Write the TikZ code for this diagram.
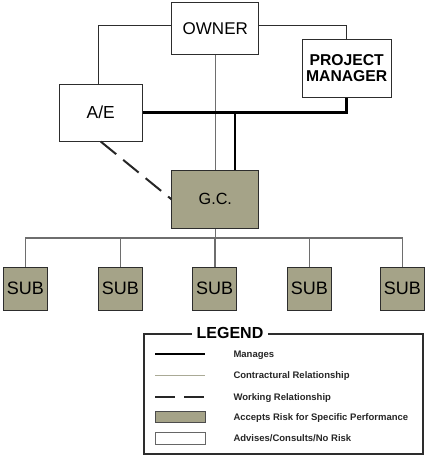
\documentclass[tikz,border=0pt]{standalone}
\usepackage{fontspec}
\setmainfont{Liberation Sans}
\usetikzlibrary{calc}
\definecolor{riskfill}{RGB}{165,163,136}
\definecolor{boxline}{RGB}{45,45,45}
\definecolor{contract}{RGB}{110,110,110}
\definecolor{contractlight}{RGB}{170,170,150}
\tikzset{
  party/.style={draw=boxline, line width=1pt, fill=white, inner sep=0pt, align=center},
  riskbox/.style={party, fill=riskfill},
  manages/.style={line width=2.6pt, black},
  contractual/.style={line width=1pt, boxline},
  contractgray/.style={line width=1.6pt, contract},
  working/.style={line width=2pt, black!85, dash pattern=on 20pt off 9pt},
  legtext/.style={anchor=west, inner sep=0pt, font=\fontsize{9.5}{10}\selectfont\bfseries, text=black!85},
}
\begin{document}
\begin{tikzpicture}[x=1pt, y=-1pt]
\useasboundingbox (0,0) rectangle (424,455);

% node positions (connectors are drawn first so the boxes sit on top)
\coordinate (ownerc) at (215.3,28.7);
\coordinate (pmc) at (346.7,68.2);
\coordinate (aec) at (100.7,112.7);
\coordinate (gcc) at (215.3,199.3);

% parties
\node[party, minimum width=86.7pt, minimum height=52pt, font=\fontsize{17}{17}\selectfont] (owner) at (ownerc) {OWNER};
\node[party, minimum width=88.7pt, minimum height=58.3pt, font=\fontsize{15.7}{16}\selectfont\bfseries] (pm) at (pmc) {PROJECT\\MANAGER};
\node[party, minimum width=83.3pt, minimum height=56.7pt, font=\fontsize{17.4}{17}\selectfont] (ae) at (aec) {A/E};
\node[riskbox, minimum width=86.7pt, minimum height=58pt, font=\fontsize{16.2}{16}\selectfont] (gc) at (gcc) {G.C.};

\foreach \i/\x in {1/25.3, 2/120.3, 3/214.7, 4/309.3, 5/402.3}
  \node[riskbox, minimum width=44pt, minimum height=42.7pt, font=\fontsize{18}{18}\selectfont] (sub\i) at (\x,288.7) {SUB};

% contractual links from the owner
\draw[contractual] ([yshift=3.7pt]owner.west) -| ([xshift=-2.4pt]ae.north);
\draw[contractual] ([yshift=3.7pt]owner.east) -| (pm.north);
\draw[contractgray] (owner.south) -- (gc.north);

% management links
\coordinate (mj) at (235,112);
\draw[manages] (ae.east) -| (pm.south);
\draw[manages] (mj) -- (mj |- gc.north);

% working relationship
\draw[working] (ae.south) -- (gc.west);

% subcontractor bus
\draw[contractgray] (gc.south) -- ++(0,9) coordinate (bus);
\foreach \i in {1,...,5}
  \draw[contractgray] (sub\i.north) |- (bus);

% legend
\node[draw=boxline, line width=1.2pt, minimum width=279pt, minimum height=120pt, inner sep=0pt] (legend) at (283.5,394) {};
\node[fill=white, inner xsep=5pt, inner ysep=2pt, font=\fontsize{16}{16}\selectfont\bfseries] (legtitle) at (legend.north -| 230,0) {LEGEND};

\coordinate (k1) at (155,354);
\coordinate (k2) at (155,375.7);
\coordinate (k3) at (155,397);
\draw[manages] (k1) -- ++(50,0) coordinate (k1e);
\draw[line width=1.2pt, contractlight] (k2) -- ++(50,0) coordinate (k2e);
\draw[working] (k3) -- ++(50,0) coordinate (k3e);
\node[draw=black!70, line width=0.8pt, fill=riskfill, minimum width=50pt, minimum height=11pt, inner sep=0pt] (k4) at (180,417.2) {};
\node[draw=black!60, line width=0.6pt, fill=white, minimum width=50pt, minimum height=11.6pt, inner sep=0pt] (k5) at (180,438.5) {};

\node[legtext] (t1) at (233.3,355.7) {Manages};
\node[legtext] (t2) at (233.3,376) {Contractural Relationship};
\node[legtext] (t3) at (233.3,397.7) {Working Relationship};
\node[legtext] (t4) at (233.3,418) {Accepts Risk for Specific Performance};
\node[legtext] (t5) at (233.3,438) {Advises/Consults/No Risk};
\end{tikzpicture}
\end{document}
